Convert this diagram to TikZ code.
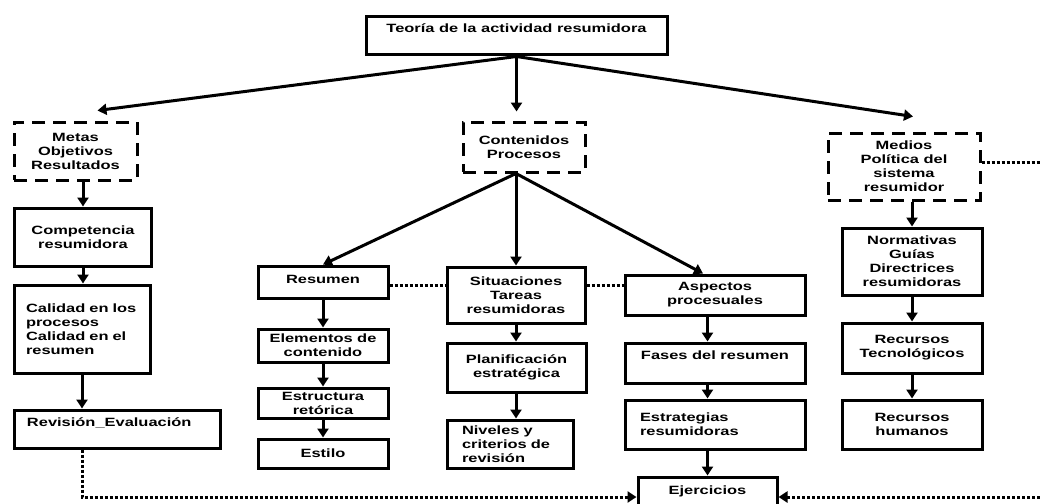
\documentclass[tikz,border=0pt]{standalone}
\usepackage{fontspec}
\newfontfamily\diagfont{Liberation Sans}[FakeStretch=1.37]
\usetikzlibrary{arrows.meta}

\begin{document}
\begin{tikzpicture}[x=1pt,y=-1pt,
        font=\diagfont\bfseries\fontsize{12}{14}\selectfont,
        box/.style={draw,line width=3pt,align=center,inner sep=2pt},
        dbox/.style={box,dash pattern=on 13pt off 8pt},
        arr/.style={line width=3pt,-{Triangle[length=9pt,width=11pt]}},
        dots/.style={line width=3pt,dash pattern=on 3pt off 2pt}]
        \useasboundingbox (0,0) rectangle (1040,503);
        \clip (0,0) rectangle (1040,503);
        \fill[white] (0,0) rectangle (1040,503);
        %% Top
        \node[box,minimum width=301pt,minimum height=38pt,text depth=16pt] (T) at (516.5,36) {Teoría de la actividad resumidora};
        \node[dbox,minimum width=123pt,minimum height=58pt] (M) at (75.5,151) {Metas\\Objetivos\\Resultados};
        \node[dbox,minimum width=122pt,minimum height=50pt] (C) at (524,147) {Contenidos\\Procesos};
        \node[dbox,minimum width=152pt,minimum height=67pt] (Md) at (904,166.5) {Medios\\Política del\\sistema\\resumidor};
        %% Left column
        \node[box,minimum width=137pt,minimum height=58pt] (Cp) at (83,237) {Competencia\\resumidora};
        \node[box,minimum width=136pt,minimum height=88pt,inner xsep=12pt,text width=112pt,align=left] (Q) at (82,329) {Calidad en los\\procesos\\Calidad en el\\resumen};
        \node[box,minimum width=206pt,minimum height=38pt,inner xsep=13pt,text width=180pt,align=left,text depth=14pt] (Rv) at (117,429) {Revisión\_Evaluación};
        %% Middle columns
        \node[box,minimum width=130pt,minimum height=32pt,text depth=6pt] (Rs) at (323,282) {Resumen};
        \node[box,minimum width=130pt,minimum height=33pt] (El) at (323,345.5) {Elementos de\\contenido};
        \node[box,minimum width=130pt,minimum height=30pt] (Es) at (323,403) {Estructura\\retórica};
        \node[box,minimum width=130pt,minimum height=29pt] (St) at (323,453.5) {Estilo};
        \node[box,minimum width=138pt,minimum height=56pt] (Si) at (516,295) {Situaciones\\Tareas\\resumidoras};
        \node[box,minimum width=139pt,minimum height=49pt] (Pl) at (516.5,367.5) {Planificación\\estratégica};
        \node[box,minimum width=126pt,minimum height=48pt,inner xsep=15pt,text width=96pt,align=left] (Nv) at (510,444) {Niveles y\\criterios de\\revisión};
        \node[box,minimum width=180pt,minimum height=40pt] (As) at (715,295) {Aspectos\\procesuales};
        \node[box,minimum width=180pt,minimum height=40pt,text depth=16pt] (Fa) at (715,363) {Fases del resumen};
        \node[box,minimum width=180pt,minimum height=49pt,inner xsep=15pt,text width=150pt,align=left] (Eg) at (715,424.5) {Estrategias\\resumidoras};
        \node[box,minimum width=139pt,minimum height=40pt,text depth=14pt] (Ej) at (707.5,497) {Ejercicios};
        %% Right column
        \node[box,minimum width=140pt,minimum height=67pt] (No) at (912,261.5) {Normativas\\Guías\\Directrices\\resumidoras};
        \node[box,minimum width=140pt,minimum height=50pt] (RT) at (912,348) {Recursos\\Tecnológicos};
        \node[box,minimum width=140pt,minimum height=49pt] (RH) at (912,424.5) {Recursos\\humanos};
        %% Arrows
        \draw[arr] (T.south) -- ([shift={(22,-10)}]M.north);
        \draw[arr,shorten >=9pt] (T.south) -- (T.south |- C.north);
        \draw[arr] (T.south) -- ([shift={(9,-15)}]Md.north);
        \draw[arr] (Cp.north |- M.south) -- (Cp.north);
        \draw[arr] (Cp.south) -- (Cp.south |- Q.north);
        \draw[arr] (Q.south) -- (Q.south |- Rv.north);
        \draw[arr] (Si.north |- C.south) -- (Rs.north);
        \draw[arr] (Si.north |- C.south) -- (Si.north);
        \draw[arr] (Si.north |- C.south) -- ([xshift=-12pt]As.north);
        \draw[arr] (Rs.south) -- (El.north);
        \draw[arr] (El.south) -- (Es.north);
        \draw[arr] (Es.south) -- (St.north);
        \draw[arr] (Si.south) -- (Si.south |- Pl.north);
        \draw[arr] (Si.south |- Pl.south) -- (Si.south |- Nv.north);
        \draw[arr] (Ej.north |- As.south) -- (Ej.north |- Fa.north);
        \draw[arr] (Ej.north |- Fa.south) -- (Ej.north |- Eg.north);
        \draw[arr] (Ej.north |- Eg.south) -- (Ej.north);
        \draw[arr] (No.north |- Md.south) -- (No.north);
        \draw[arr] (No.south) -- (RT.north);
        \draw[arr] (RT.south) -- (RH.north);
        %% Dotted links
        \coordinate (e1) at (1045,162);
        \coordinate (e2) at (1045,497);
        \draw[dots] ([yshift=-3pt]Rs.east) -- ([yshift=-3pt]Rs.east -| Si.west);
        \draw[dots] ([yshift=-3pt]Rs.east -| Si.east) -- ([yshift=-3pt]Rs.east -| As.west);
        \draw[dots] (Md.east |- e1) -- (e1);
        \draw[dots,-{Triangle[length=9pt,width=11pt]}] (Q.south |- Rv.south) |- (Ej.west);
        \draw[dots,-{Triangle[length=9pt,width=11pt]}] (e2) -- (Ej.east);
    \end{tikzpicture}
\end{document}
